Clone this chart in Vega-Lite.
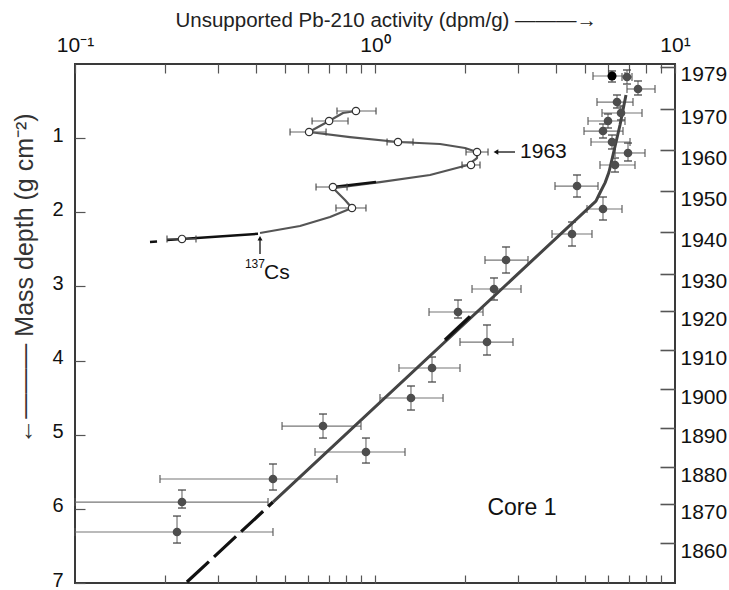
{
  "$schema": "https://vega.github.io/schema/vega-lite/v6.json",
  "width": 600,
  "height": 519,
  "autosize": {"type": "none"},
  "padding": {"left": 75, "top": 64, "right": 54, "bottom": 7},
  "background": "white",
  "config": {
    "view": {"stroke": "#3a3a3a", "strokeWidth": 2},
    "font": "Liberation Sans",
    "axis": {"domain": false, "grid": false, "labelFont": "Liberation Sans", "labelColor": "#111", "tickColor": "#555", "tickWidth": 1.2, "labelOverlap": false, "labelFlush": false, "titleFont": "Liberation Sans", "titleFontWeight": "normal", "titleColor": "#222"}
  },
  "datasets": {
    "pb": [
      {"x": 6.166, "y": 0.162, "xlo": 5.329, "xhi": 6.813, "ylo": 0.094, "yhi": 0.243},
      {"x": 6.918, "y": 0.175, "xlo": 6.658, "xhi": 7.189, "ylo": 0.081, "yhi": 0.27},
      {"x": 7.528, "y": 0.337, "xlo": 6.918, "xhi": 8.577, "ylo": 0.229, "yhi": 0.418},
      {"x": 6.407, "y": 0.513, "xlo": 5.495, "xhi": 7.244, "ylo": 0.418, "yhi": 0.593},
      {"x": 6.607, "y": 0.661, "xlo": 5.711, "xhi": 7.763, "ylo": 0.566, "yhi": 0.755},
      {"x": 5.98, "y": 0.769, "xlo": 5.129, "xhi": 6.813, "ylo": 0.674, "yhi": 0.863},
      {"x": 5.754, "y": 0.904, "xlo": 4.974, "xhi": 6.709, "ylo": 0.809, "yhi": 0.998},
      {"x": 6.166, "y": 1.052, "xlo": 5.248, "xhi": 7.08, "ylo": 0.958, "yhi": 1.146},
      {"x": 6.972, "y": 1.2, "xlo": 6.31, "xhi": 7.943, "ylo": 1.066, "yhi": 1.308},
      {"x": 6.31, "y": 1.362, "xlo": 5.623, "xhi": 7.356, "ylo": 1.268, "yhi": 1.457},
      {"x": 4.714, "y": 1.646, "xlo": 3.981, "xhi": 5.538, "ylo": 1.497, "yhi": 1.794},
      {"x": 5.754, "y": 1.956, "xlo": 5.09, "xhi": 6.658, "ylo": 1.794, "yhi": 2.104},
      {"x": 4.536, "y": 2.293, "xlo": 3.891, "xhi": 5.288, "ylo": 2.131, "yhi": 2.455},
      {"x": 2.734, "y": 2.644, "xlo": 2.326, "xhi": 3.236, "ylo": 2.468, "yhi": 2.819},
      {"x": 2.493, "y": 3.035, "xlo": 2.106, "xhi": 3.067, "ylo": 2.886, "yhi": 3.183},
      {"x": 1.891, "y": 3.345, "xlo": 1.514, "xhi": 2.291, "ylo": 3.183, "yhi": 3.426},
      {"x": 2.362, "y": 3.75, "xlo": 1.92, "xhi": 2.884, "ylo": 3.52, "yhi": 3.925},
      {"x": 1.549, "y": 4.1, "xlo": 1.202, "xhi": 1.92, "ylo": 3.952, "yhi": 4.289},
      {"x": 1.318, "y": 4.505, "xlo": 1.039, "xhi": 1.686, "ylo": 4.343, "yhi": 4.667},
      {"x": 0.671, "y": 4.883, "xlo": 0.49, "xhi": 0.898, "ylo": 4.721, "yhi": 5.045},
      {"x": 0.933, "y": 5.233, "xlo": 0.631, "xhi": 1.259, "ylo": 5.045, "yhi": 5.382},
      {"x": 0.457, "y": 5.597, "xlo": 0.192, "xhi": 0.747, "ylo": 5.395, "yhi": 5.746},
      {"x": 0.2273, "y": 5.908, "xlo": 0.1, "xhi": 0.44, "ylo": 5.746, "yhi": 5.989},
      {"x": 0.2188, "y": 6.312, "xlo": 0.1, "xhi": 0.457, "ylo": 6.097, "yhi": 6.461}
    ],
    "cs": [
      {"x": 0.864, "y": 0.634, "xlo": 0.747, "xhi": 1.008},
      {"x": 0.703, "y": 0.769, "xlo": 0.617, "xhi": 0.813},
      {"x": 0.603, "y": 0.917, "xlo": 0.521, "xhi": 0.687},
      {"x": 1.193, "y": 1.052, "xlo": 1.097, "xhi": 1.339},
      {"x": 2.188, "y": 1.187, "xlo": 2.011, "xhi": 2.381},
      {"x": 2.089, "y": 1.362, "xlo": 1.95, "xhi": 2.239},
      {"x": 0.724, "y": 1.659, "xlo": 0.636, "xhi": 0.807},
      {"x": 0.838, "y": 1.942, "xlo": 0.741, "xhi": 0.933},
      {"x": 0.2273, "y": 2.36, "xlo": 0.2026, "xhi": 0.2531}
    ],
    "csline": [
      {"i": 3, "x": 0.4137, "y": 2.279},
      {"i": 4, "x": 0.5623, "y": 2.185},
      {"i": 5, "x": 0.7079, "y": 2.064},
      {"i": 6, "x": 0.838, "y": 1.942},
      {"i": 7, "x": 0.7943, "y": 1.834},
      {"i": 8, "x": 0.7244, "y": 1.673},
      {"i": 9, "x": 1.0391, "y": 1.592},
      {"i": 10, "x": 1.5253, "y": 1.497},
      {"i": 11, "x": 2.0417, "y": 1.362},
      {"i": 12, "x": 2.1878, "y": 1.268},
      {"i": 13, "x": 2.1878, "y": 1.187},
      {"i": 14, "x": 1.9953, "y": 1.133},
      {"i": 15, "x": 1.6474, "y": 1.079},
      {"i": 16, "x": 1.1933, "y": 1.052},
      {"i": 17, "x": 0.8254, "y": 0.985},
      {"i": 18, "x": 0.6026, "y": 0.917},
      {"i": 19, "x": 0.7026, "y": 0.769},
      {"i": 20, "x": 0.7822, "y": 0.661},
      {"i": 21, "x": 0.8642, "y": 0.634}
    ],
    "csdark": [
      {"seg": "a", "i": 1, "x": 0.1778, "y": 2.401},
      {"seg": "a", "i": 2, "x": 0.1877, "y": 2.394},
      {"seg": "b", "i": 1, "x": 0.2026, "y": 2.374},
      {"seg": "b", "i": 2, "x": 0.2273, "y": 2.36},
      {"seg": "b", "i": 3, "x": 0.4074, "y": 2.29},
      {"seg": "c", "i": 1, "x": 0.7244, "y": 1.659},
      {"seg": "c", "i": 2, "x": 1.0077, "y": 1.592}
    ],
    "fit": [
      {"i": 1, "x": 0.4571, "y": 5.908},
      {"i": 2, "x": 5.45, "y": 1.85},
      {"i": 3, "x": 5.65, "y": 1.72},
      {"i": 4, "x": 5.85, "y": 1.6},
      {"i": 5, "x": 6.026, "y": 1.457},
      {"i": 6, "x": 6.214, "y": 1.227},
      {"i": 7, "x": 6.557, "y": 0.823},
      {"i": 8, "x": 6.864, "y": 0.418}
    ],
    "fitdash": [
      {"i": 1, "x": 0.2361, "y": 6.987},
      {"i": 2, "x": 0.4571, "y": 5.908}
    ],
    "fitdark": [
      {"i": 1, "x": 1.7113, "y": 3.723},
      {"i": 2, "x": 2.0735, "y": 3.406}
    ],
    "arrows": [
      {"a": "1963", "x": 2.53, "x2": 2.929, "y": 1.187, "y2": 1.187},
      {"a": "cs", "x": 0.4137, "x2": 0.4137, "y": 2.35, "y2": 2.563}
    ]
  },
  "resolve": {"axis": {"x": "independent", "y": "independent"}},
  "layer": [
    {
      "data": {"name": "pb"},
      "mark": {"type": "rule", "color": "#777", "strokeWidth": 1.2},
      "encoding": {
        "x": {"field": "xlo", "type": "quantitative", "scale": {"type": "log", "domain": [0.1, 10], "nice": false},
          "axis": {"orient": "top", "values": [0.1, 0.2, 0.3, 0.4, 0.5, 0.6, 0.7, 0.8, 0.9, 1, 2, 3, 4, 5, 6, 7, 8, 9, 10],
            "labelExpr": "datum.value == 0.1 ? '10⁻¹' : datum.value == 1 ? '10⁰' : datum.value == 10 ? '10¹' : ''",
            "tickSize": -9, "labelPadding": 18, "labelFontSize": 21,
            "title": "Unsupported Pb-210 activity (dpm/g)     ———→", "titleFontSize": 20.5, "titleX": 100, "titleY": -44, "titleAlign": "left", "titleBaseline": "middle", "titleAngle": 0}},
        "x2": {"field": "xhi"},
        "y": {"field": "y", "type": "quantitative", "scale": {"domain": [0, 7], "reverse": true, "nice": false, "zero": false},
          "axis": {"orient": "left", "values": [1, 2, 3, 4, 5, 6, 7], "tickSize": -10, "labelPadding": 22, "labelFontSize": 20, "labelOffset": -3,
            "title": "←———  Mass depth (g cm⁻²)", "titleFontSize": 25, "titleAngle": -90, "titleX": -51, "titleY": 214, "titleAlign": "center", "titleBaseline": "middle", "titleColor": "#333"}}
      }
    },
    {
      "data": {"name": "pb"},
      "mark": {"type": "rule", "color": "#777", "strokeWidth": 1.2},
      "encoding": {
        "x": {"field": "x", "type": "quantitative", "scale": {"type": "log", "domain": [0.1, 10], "nice": false}, "axis": null},
        "y": {"field": "ylo", "type": "quantitative", "scale": {"domain": [0, 7], "reverse": true, "nice": false, "zero": false}, "axis": null},
        "y2": {"field": "yhi"}
      }
    },
    {
      "data": {"name": "pb"},
      "mark": {"type": "tick", "orient": "vertical", "color": "#555", "size": 8, "thickness": 1.6},
      "encoding": {
        "x": {"field": "xlo", "type": "quantitative", "scale": {"type": "log", "domain": [0.1, 10], "nice": false}, "axis": null},
        "y": {"field": "y", "type": "quantitative", "scale": {"domain": [0, 7], "reverse": true, "nice": false, "zero": false}, "axis": null}
      }
    },
    {
      "data": {"name": "pb"},
      "mark": {"type": "tick", "orient": "vertical", "color": "#555", "size": 8, "thickness": 1.6},
      "encoding": {
        "x": {"field": "xhi", "type": "quantitative", "scale": {"type": "log", "domain": [0.1, 10], "nice": false}, "axis": null},
        "y": {"field": "y", "type": "quantitative", "scale": {"domain": [0, 7], "reverse": true, "nice": false, "zero": false}, "axis": null}
      }
    },
    {
      "data": {"name": "pb"},
      "mark": {"type": "tick", "orient": "horizontal", "color": "#444", "size": 8, "thickness": 1.8},
      "encoding": {
        "x": {"field": "x", "type": "quantitative", "scale": {"type": "log", "domain": [0.1, 10], "nice": false}, "axis": null},
        "y": {"field": "ylo", "type": "quantitative", "scale": {"domain": [0, 7], "reverse": true, "nice": false, "zero": false}, "axis": null}
      }
    },
    {
      "data": {"name": "pb"},
      "mark": {"type": "tick", "orient": "horizontal", "color": "#444", "size": 8, "thickness": 1.8},
      "encoding": {
        "x": {"field": "x", "type": "quantitative", "scale": {"type": "log", "domain": [0.1, 10], "nice": false}, "axis": null},
        "y": {"field": "yhi", "type": "quantitative", "scale": {"domain": [0, 7], "reverse": true, "nice": false, "zero": false}, "axis": null}
      }
    },
    {
      "data": {"name": "fitdash"},
      "mark": {"type": "line", "color": "#111", "strokeWidth": 3.2, "strokeDash": [30, 7]},
      "encoding": {
        "x": {"field": "x", "type": "quantitative", "scale": {"type": "log", "domain": [0.1, 10], "nice": false}, "axis": null},
        "y": {"field": "y", "type": "quantitative", "scale": {"domain": [0, 7], "reverse": true, "nice": false, "zero": false}, "axis": null},
        "order": {"field": "i"}
      }
    },
    {
      "data": {"name": "fit"},
      "mark": {"type": "line", "color": "#444", "strokeWidth": 3, "interpolate": "linear", "strokeJoin": "round"},
      "encoding": {
        "x": {"field": "x", "type": "quantitative", "scale": {"type": "log", "domain": [0.1, 10], "nice": false},
          "axis": {"orient": "bottom", "values": [0.2, 0.3, 0.4, 0.5, 0.6, 0.7, 0.8, 0.9, 1, 2, 3, 4, 5, 6, 7, 8, 9], "labels": false, "tickSize": -8, "title": null}},
        "y": {"field": "y", "type": "quantitative", "scale": {"domain": [0, 7], "reverse": true, "nice": false, "zero": false},
          "axis": {"orient": "right", "values": [0.04, 0.607, 1.16, 1.713, 2.266, 2.832, 3.332, 3.858, 4.384, 4.91, 5.436, 5.935, 6.461],
            "labelExpr": "datum.value < 0.3 ? '1979' : datum.value < 0.9 ? '1970' : datum.value < 1.4 ? '1960' : datum.value < 2 ? '1950' : datum.value < 2.5 ? '1940' : datum.value < 3.1 ? '1930' : datum.value < 3.6 ? '1920' : datum.value < 4.1 ? '1910' : datum.value < 4.6 ? '1900' : datum.value < 5.2 ? '1890' : datum.value < 5.7 ? '1880' : datum.value < 6.2 ? '1870' : '1860'",
            "tickSize": -15, "labelPadding": 20, "labelOffset": 8, "labelFontSize": 21, "tickColor": "#555", "tickWidth": 1.6, "title": null}},
        "order": {"field": "i"}
      }
    },
    {
      "data": {"name": "fitdark"},
      "mark": {"type": "line", "color": "#111", "strokeWidth": 3.4},
      "encoding": {
        "x": {"field": "x", "type": "quantitative", "scale": {"type": "log", "domain": [0.1, 10], "nice": false}, "axis": null},
        "y": {"field": "y", "type": "quantitative", "scale": {"domain": [0, 7], "reverse": true, "nice": false, "zero": false}, "axis": null},
        "order": {"field": "i"}
      }
    },
    {
      "data": {"name": "pb"},
      "mark": {"type": "point", "filled": true, "color": "#4d4d4d", "opacity": 1, "size": 75},
      "encoding": {
        "x": {"field": "x", "type": "quantitative", "scale": {"type": "log", "domain": [0.1, 10], "nice": false}, "axis": null},
        "y": {"field": "y", "type": "quantitative", "scale": {"domain": [0, 7], "reverse": true, "nice": false, "zero": false}, "axis": null}
      }
    },
    {
      "data": {"name": "pb"},
      "transform": [{"filter": "datum.y < 0.17"}],
      "mark": {"type": "point", "filled": true, "color": "#000", "opacity": 1, "size": 80},
      "encoding": {
        "x": {"field": "x", "type": "quantitative", "scale": {"type": "log", "domain": [0.1, 10], "nice": false}, "axis": null},
        "y": {"field": "y", "type": "quantitative", "scale": {"domain": [0, 7], "reverse": true, "nice": false, "zero": false}, "axis": null}
      }
    },
    {
      "data": {"name": "csline"},
      "mark": {"type": "line", "color": "#555", "strokeWidth": 2.2, "interpolate": "linear", "strokeJoin": "round"},
      "encoding": {
        "x": {"field": "x", "type": "quantitative", "scale": {"type": "log", "domain": [0.1, 10], "nice": false}, "axis": null},
        "y": {"field": "y", "type": "quantitative", "scale": {"domain": [0, 7], "reverse": true, "nice": false, "zero": false}, "axis": null},
        "order": {"field": "i"}
      }
    },
    {
      "data": {"name": "csdark"},
      "mark": {"type": "line", "color": "#111", "strokeWidth": 2.4},
      "encoding": {
        "x": {"field": "x", "type": "quantitative", "scale": {"type": "log", "domain": [0.1, 10], "nice": false}, "axis": null},
        "y": {"field": "y", "type": "quantitative", "scale": {"domain": [0, 7], "reverse": true, "nice": false, "zero": false}, "axis": null},
        "detail": {"field": "seg"},
        "order": {"field": "i"}
      }
    },
    {
      "data": {"name": "cs"},
      "mark": {"type": "rule", "color": "#666", "strokeWidth": 1.1},
      "encoding": {
        "x": {"field": "xlo", "type": "quantitative", "scale": {"type": "log", "domain": [0.1, 10], "nice": false}, "axis": null},
        "x2": {"field": "xhi"},
        "y": {"field": "y", "type": "quantitative", "scale": {"domain": [0, 7], "reverse": true, "nice": false, "zero": false}, "axis": null}
      }
    },
    {
      "data": {"name": "cs"},
      "mark": {"type": "tick", "orient": "vertical", "color": "#444", "size": 7, "thickness": 1.6},
      "encoding": {
        "x": {"field": "xlo", "type": "quantitative", "scale": {"type": "log", "domain": [0.1, 10], "nice": false}, "axis": null},
        "y": {"field": "y", "type": "quantitative", "scale": {"domain": [0, 7], "reverse": true, "nice": false, "zero": false}, "axis": null}
      }
    },
    {
      "data": {"name": "cs"},
      "mark": {"type": "tick", "orient": "vertical", "color": "#444", "size": 7, "thickness": 1.6},
      "encoding": {
        "x": {"field": "xhi", "type": "quantitative", "scale": {"type": "log", "domain": [0.1, 10], "nice": false}, "axis": null},
        "y": {"field": "y", "type": "quantitative", "scale": {"domain": [0, 7], "reverse": true, "nice": false, "zero": false}, "axis": null}
      }
    },
    {
      "data": {"name": "cs"},
      "mark": {"type": "point", "filled": true, "fill": "white", "stroke": "#333", "strokeWidth": 1.2, "opacity": 1, "size": 55},
      "encoding": {
        "x": {"field": "x", "type": "quantitative", "scale": {"type": "log", "domain": [0.1, 10], "nice": false}, "axis": null},
        "y": {"field": "y", "type": "quantitative", "scale": {"domain": [0, 7], "reverse": true, "nice": false, "zero": false}, "axis": null}
      }
    },
    {
      "data": {"name": "arrows"},
      "mark": {"type": "rule", "color": "#111", "strokeWidth": 1.3},
      "encoding": {
        "x": {"field": "x", "type": "quantitative", "scale": {"type": "log", "domain": [0.1, 10], "nice": false}, "axis": null},
        "x2": {"field": "x2"},
        "y": {"field": "y", "type": "quantitative", "scale": {"domain": [0, 7], "reverse": true, "nice": false, "zero": false}, "axis": null},
        "y2": {"field": "y2"}
      }
    },
    {
      "data": {"name": "arrows"},
      "transform": [{"filter": "datum.a == '1963'"}],
      "mark": {"type": "point", "shape": "triangle-left", "filled": true, "color": "#111", "opacity": 1, "size": 30},
      "encoding": {
        "x": {"field": "x", "type": "quantitative", "scale": {"type": "log", "domain": [0.1, 10], "nice": false}, "axis": null},
        "y": {"field": "y", "type": "quantitative", "scale": {"domain": [0, 7], "reverse": true, "nice": false, "zero": false}, "axis": null}
      }
    },
    {
      "data": {"name": "arrows"},
      "transform": [{"filter": "datum.a == 'cs'"}],
      "mark": {"type": "point", "shape": "triangle-up", "filled": true, "color": "#111", "opacity": 1, "size": 25},
      "encoding": {
        "x": {"field": "x", "type": "quantitative", "scale": {"type": "log", "domain": [0.1, 10], "nice": false}, "axis": null},
        "y": {"field": "y", "type": "quantitative", "scale": {"domain": [0, 7], "reverse": true, "nice": false, "zero": false}, "axis": null}
      }
    },
    {
      "data": {"values": [{"x": 3.044, "y": 1.187, "label": "1963"}]},
      "mark": {"type": "text", "align": "left", "baseline": "middle", "fontSize": 21, "color": "#111", "font": "Liberation Sans"},
      "encoding": {
        "x": {"field": "x", "type": "quantitative", "scale": {"type": "log", "domain": [0.1, 10], "nice": false}, "axis": null},
        "y": {"field": "y", "type": "quantitative", "scale": {"domain": [0, 7], "reverse": true, "nice": false, "zero": false}, "axis": null},
        "text": {"field": "label"}
      }
    },
    {
      "data": {"values": [{"x": 0.398, "y": 2.70, "label": "137"}]},
      "mark": {"type": "text", "align": "center", "baseline": "middle", "fontSize": 12, "color": "#111", "font": "Liberation Sans"},
      "encoding": {
        "x": {"field": "x", "type": "quantitative", "scale": {"type": "log", "domain": [0.1, 10], "nice": false}, "axis": null},
        "y": {"field": "y", "type": "quantitative", "scale": {"domain": [0, 7], "reverse": true, "nice": false, "zero": false}, "axis": null},
        "text": {"field": "label"}
      }
    },
    {
      "data": {"values": [{"x": 0.4266, "y": 2.82, "label": "Cs"}]},
      "mark": {"type": "text", "align": "left", "baseline": "middle", "fontSize": 21, "color": "#111", "font": "Liberation Sans"},
      "encoding": {
        "x": {"field": "x", "type": "quantitative", "scale": {"type": "log", "domain": [0.1, 10], "nice": false}, "axis": null},
        "y": {"field": "y", "type": "quantitative", "scale": {"domain": [0, 7], "reverse": true, "nice": false, "zero": false}, "axis": null},
        "text": {"field": "label"}
      }
    },
    {
      "data": {"values": [{"x": 3.09, "y": 5.989, "label": "Core 1"}]},
      "mark": {"type": "text", "align": "center", "baseline": "middle", "fontSize": 23, "color": "#111", "font": "Liberation Sans"},
      "encoding": {
        "x": {"field": "x", "type": "quantitative", "scale": {"type": "log", "domain": [0.1, 10], "nice": false}, "axis": null},
        "y": {"field": "y", "type": "quantitative", "scale": {"domain": [0, 7], "reverse": true, "nice": false, "zero": false}, "axis": null},
        "text": {"field": "label"}
      }
    }
  ]
}
